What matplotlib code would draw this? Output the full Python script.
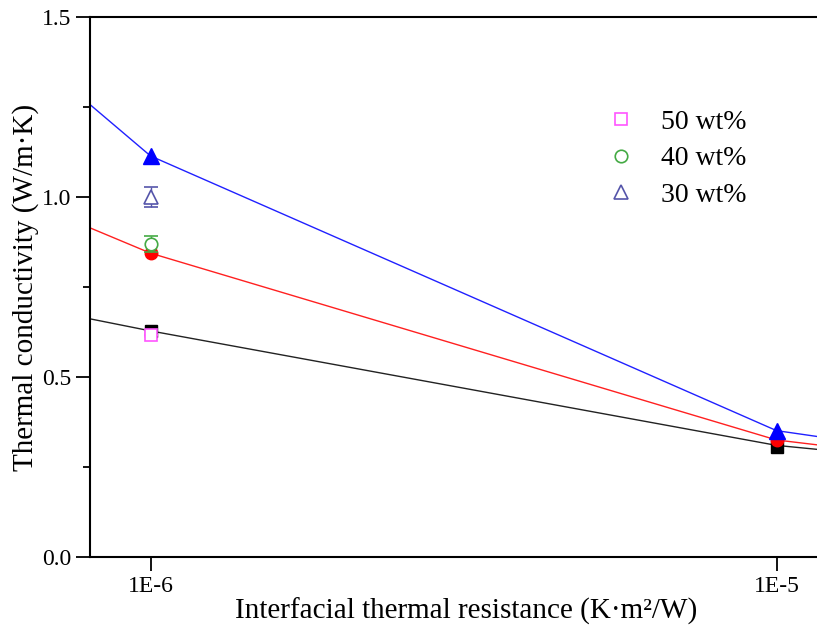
import matplotlib.pyplot as plt
from matplotlib.ticker import FixedLocator, NullLocator

plt.rcParams['font.family'] = ['Liberation Serif', 'DejaVu Serif']

# model curves (interfacial thermal resistance vs thermal conductivity)
model_x = [1e-7, 1e-6, 1e-5, 1e-4]
model_50 = [0.975, 0.628, 0.310, 0.14]
model_40 = [1.571, 0.844, 0.325, 0.117]
model_30 = [2.59, 1.114, 0.351, 0.10]

# filled model points
pt_x = [1e-6, 1e-5]
pt_50 = [0.628, 0.306]
pt_40 = [0.844, 0.325]
pt_30 = [1.114, 0.351]

# experimental values
exp_x = [1e-6]
exp_50 = [0.617]
exp_40 = [0.869]
exp_30 = [1.0]
err_50 = [0.0]
err_40 = [0.022]
err_30 = [0.027]

labels = ['50 wt%', '40 wt%', '30 wt%']

fig = plt.figure(figsize=(8.17, 6.32), dpi=100)
ax = fig.add_axes([0.110, 0.1187, 0.92, 0.8544])

ax.plot(model_x, model_50, color='#222222', lw=1)
ax.plot(model_x, model_40, color='#ff2020', lw=1)
ax.plot(model_x, model_30, color='#2020ff', lw=1)

ax.plot(pt_x, pt_50, 's', color='black', ms=8, zorder=3)
ax.plot(pt_x, pt_40, 'o', color='red', ms=9, zorder=3)
ax.plot(pt_x, pt_30, '^', color='blue', ms=11, zorder=3)

h1 = ax.errorbar(exp_x, exp_50, yerr=err_50, fmt='s', color='#ff55ff', mfc='white',
                 ms=8, mew=1.2, capsize=5, elinewidth=1, zorder=4)
h2 = ax.errorbar(exp_x, exp_40, yerr=err_40, fmt='o', color='#44aa44', mfc='white',
                 ms=9, mew=1.2, capsize=5, elinewidth=1, zorder=4)
h3 = ax.errorbar(exp_x, exp_30, yerr=err_30, fmt='^', color='#5555aa', mfc='white',
                 ms=10, mew=1.2, capsize=5, elinewidth=1, zorder=4)

ax.set_xscale('log')
ax.set_xlim(8.0e-7, 1.27e-5)
ax.set_ylim(0, 1.5)
ax.xaxis.set_major_locator(FixedLocator([1e-6, 1e-5]))
ax.xaxis.set_minor_locator(NullLocator())
ax.set_xticklabels(['1E-6', '1E-5'])
ax.set_yticks([0, 0.5, 1.0, 1.5])
ax.set_yticklabels(['0.0', '0.5', '1.0', '1.5'])
ax.set_yticks([0.25, 0.75, 1.25], minor=True)

ax.tick_params(direction='out', length=10, width=1.3, labelsize=17)
ax.tick_params(which='minor', direction='out', length=5, width=1.3)
ax.spines['right'].set_visible(False)
for s in ['left', 'bottom', 'top']:
    ax.spines[s].set_linewidth(1.5)

ax.set_xlabel('Interfacial thermal resistance (K·m²/W)', fontsize=21, labelpad=1)
ax.set_ylabel('Thermal conductivity (W/m·K)', fontsize=21, labelpad=2)

leg = ax.legend([h1[0], h2[0], h3[0]], labels, loc='upper left',
                bbox_to_anchor=(0.645, 0.875), frameon=False, fontsize=20,
                handletextpad=0.7, labelspacing=0.4, handlelength=1.5)

fig.savefig('out.png', dpi=100)
